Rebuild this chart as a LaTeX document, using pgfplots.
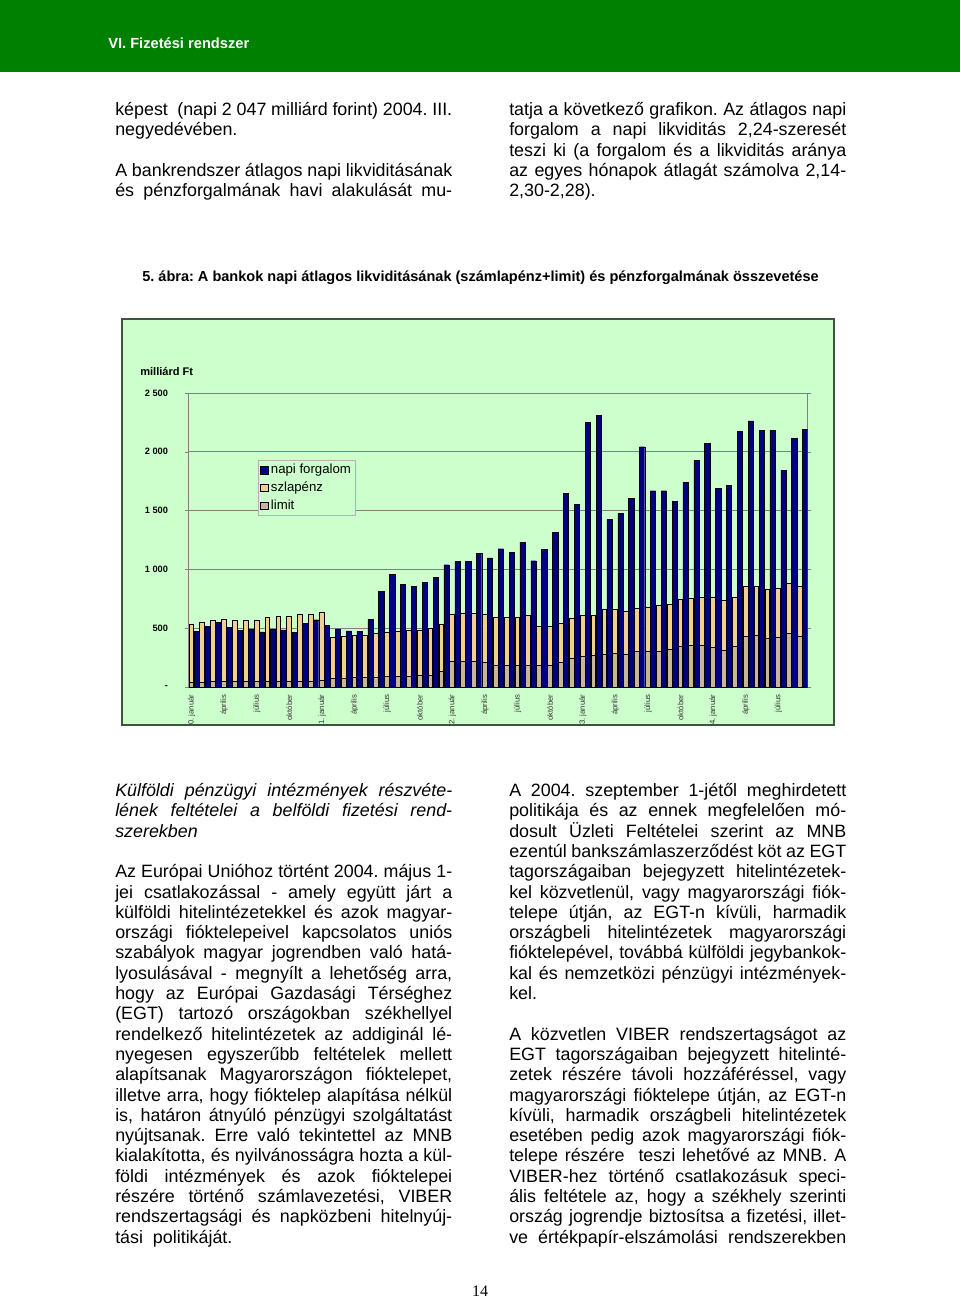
\documentclass[border=0pt]{standalone}
\usepackage{pgfplots}
\pgfplotsset{compat=1.18}
\usepackage{pgfplotstable}
\usepackage{fontspec}
\setmainfont{Liberation Sans}
\newfontfamily\seriffont{Liberation Serif}
\definecolor{headgreen}{RGB}{0,128,0}
\definecolor{chartbg}{RGB}{204,255,204}
\definecolor{navybar}{RGB}{0,0,128}
\definecolor{szcol}{RGB}{240,208,140}
\definecolor{limcol}{RGB}{200,182,150}
\definecolor{boxcol}{RGB}{60,85,60}

\pgfplotstableread{
i limit szlap forg
0 42 493 472
1 42 510 513
2 46 523 549
3 46 528 510
4 46 520 480
5 46 523 489
6 46 520 468
7 46 548 491
8 46 557 485
9 46 559 462
10 48 567 543
11 48 572 572
12 58 581 522
13 76 348 494
14 77 354 477
15 80 360 471
16 82 358 576
17 85 372 813
18 88 378 955
19 90 382 870
20 93 385 853
21 96 389 890
22 99 397 935
23 132 401 1040
24 218 404 1066
25 218 409 1070
26 220 408 1139
27 210 410 1097
28 184 410 1176
29 181 413 1145
30 181 414 1233
31 184 422 1074
32 181 333 1170
33 184 331 1318
34 207 333 1644
35 241 339 1553
36 258 348 2253
37 269 337 2310
38 278 382 1423
39 283 377 1474
40 275 371 1607
41 303 367 2043
42 303 374 1669
43 303 389 1669
44 317 388 1579
45 348 394 1743
46 352 401 1930
47 354 409 2072
48 339 427 1689
49 313 422 1715
50 345 420 2174
51 427 431 2264
52 436 424 2185
53 416 415 2185
54 422 416 1845
55 453 428 2117
56 432 427 2191
}\data

\newlength\colw \setlength\colw{252.75pt}
\newcommand\J[1]{\makebox[\colw][s]{#1}\par}
\newcommand\E[1]{\makebox[\colw][l]{#1}\par}
\newcommand\B{\mbox{}\par}
\newcommand\bodyset{\fontsize{13.4pt}{15.225pt}\selectfont\frenchspacing\setlength\parindent{0pt}\lineskiplimit=-30pt\relax}

\begin{document}
\frenchspacing
\begin{tikzpicture}
\path[use as bounding box] (0pt,0pt) rectangle (720pt,-973.5pt);
\begin{scope}[x=0.75pt,y=-0.75pt]
  % header
  \fill[headgreen] (0,0) rectangle (960,72);
  \node[anchor=west, inner sep=0pt, text=white, font=\fontsize{11pt}{13pt}\selectfont\bfseries] at (108,43) {VI. Fizetési rendszer};
  % top columns
  \node[anchor=base west, inner sep=0pt] at (115,115.5) {\parbox[t]{\colw}{\bodyset
    \J{képest\ \ (napi 2\hspace{.28em}047 milliárd forint) 2004. III.}
    \E{negyedévében.}
    \B
    \J{A bankrendszer átlagos napi likviditásának}
    \J{és pénzforgalmának havi alakulását mu-}}};
  \node[anchor=base west, inner sep=0pt] at (509,115.5) {\parbox[t]{\colw}{\bodyset
    \J{tatja a következő grafikon. Az átlagos napi}
    \J{forgalom a napi likviditás 2,24-szeresét}
    \J{teszi ki (a forgalom és a likviditás aránya}
    \J{az egyes hónapok átlagát számolva 2,14-}
    \E{2,30-2,28).}}};
  % caption
  \node[inner sep=0pt, font=\fontsize{10.9pt}{12pt}\selectfont\bfseries] at (480.5,278) {\frenchspacing 5. ábra: A bankok napi átlagos likviditásának (számlapénz+limit) és pénzforgalmának összevetése};
  % chart box
  \fill[chartbg] (122,319) rectangle (834,725);
  \node[anchor=west, inner sep=0pt, font=\fontsize{8.3pt}{10pt}\selectfont\bfseries] at (140,371) {milliárd Ft};
  % lower columns
  \node[anchor=base west, inner sep=0pt] at (115,796.5) {\parbox[t]{\colw}{\bodyset
    \itshape
    \J{Külföldi pénzügyi intézmények részvéte-}
    \J{lének feltételei a belföldi fizetési rend-}
    \E{szerekben}
    \upshape
    \B
    \J{Az Európai Unióhoz történt 2004. május 1-}
    \J{jei csatlakozással - amely együtt járt a}
    \J{külföldi hitelintézetekkel és azok magyar-}
    \J{országi fióktelepeivel kapcsolatos uniós}
    \J{szabályok magyar jogrendben való hatá-}
    \J{lyosulásával - megnyílt a lehetőség arra,}
    \J{hogy az Európai Gazdasági Térséghez}
    \J{(EGT) tartozó országokban székhellyel}
    \J{rendelkező hitelintézetek az addiginál lé-}
    \J{nyegesen egyszerűbb feltételek mellett}
    \J{alapítsanak Magyarországon fióktelepet,}
    \J{illetve arra, hogy fióktelep alapítása nélkül}
    \J{is, határon átnyúló pénzügyi szolgáltatást}
    \J{nyújtsanak. Erre való tekintettel az MNB}
    \J{kialakította, és nyilvánosságra hozta a kül-}
    \J{földi intézmények és azok fióktelepei}
    \J{részére történő számlavezetési, VIBER}
    \J{rendszertagsági és napközbeni hitelnyúj-}
    \E{tási\ \ politikáját.}}};
  \node[anchor=base west, inner sep=0pt] at (509,796.5) {\parbox[t]{\colw}{\bodyset
    \J{A 2004. szeptember 1-jétől meghirdetett}
    \J{politikája és az ennek megfelelően mó-}
    \J{dosult Üzleti Feltételei szerint az MNB}
    \J{ezentúl bankszámlaszerződést köt az EGT}
    \J{tagországaiban bejegyzett hitelintézetek-}
    \J{kel közvetlenül, vagy magyarországi fiók-}
    \J{telepe útján, az EGT-n kívüli, harmadik}
    \J{országbeli hitelintézetek magyarországi}
    \J{fióktelepével, továbbá külföldi jegybankok-}
    \J{kal és nemzetközi pénzügyi intézmények-}
    \E{kel.}
    \B
    \J{A közvetlen VIBER rendszertagságot az}
    \J{EGT tagországaiban bejegyzett hitelinté-}
    \J{zetek részére távoli hozzáféréssel, vagy}
    \J{magyarországi fióktelepe útján, az EGT-n}
    \J{kívüli, harmadik országbeli hitelintézetek}
    \J{esetében pedig azok magyarországi fiók-}
    \J{telepe részére\ \ teszi lehetővé az MNB. A}
    \J{VIBER-hez történő csatlakozásuk speci-}
    \J{ális feltétele az, hogy a székhely szerinti}
    \J{ország jogrendje biztosítsa a fizetési, illet-}
    \J{ve értékpapír-elszámolási rendszerekben}}};
  \node[inner sep=0pt, font=\seriffont\fontsize{12pt}{14pt}\selectfont] at (480,1291) {14};
\end{scope}

\begin{scope}
\clip (91.5pt,-239.25pt) rectangle (625.5pt,-543.75pt);
\begin{axis}[
  at={(141.225pt,-515.25pt)}, anchor=south west,
  scale only axis, width=464.55pt, height=220.5pt,
  xmin=0, xmax=57, ymin=0, ymax=2500,
  axis line style={draw=gray},
  ymajorgrids, grid style={gray, line width=0.5pt},
  ytick={0,500,...,2500},
  yticklabels={-,500,1 000,1 500,2 000,2 500},
  ytick style={draw=gray}, tick align=outside, major tick length=2.25pt,
  yticklabel style={font=\fontsize{6.9pt}{8pt}\selectfont\bfseries, xshift=-9.5pt},
  xtick={0.3,3.3,...,54.3},
  xticklabels={2000. január,április,július,október,2001. január,április,július,október,2002. január,április,július,október,2003. január,április,július,október,2004. január,április,július},
  xtick style={draw=none},
  xticklabel style={rotate=90, anchor=east, font=\fontsize{5.8pt}{7pt}\selectfont, text=black!80},
  legend image code/.code={\draw[#1,draw=black,line width=0.4pt] (0pt,-2.8pt) rectangle (5.6pt,2.8pt);},
  legend style={at={(0.1125,0.772)}, anchor=north west, draw=gray!60, fill=chartbg,
    font=\fontsize{9.9pt}{11pt}\selectfont, inner xsep=1.5pt, inner ysep=1pt, row sep=0.6pt},
  legend cell align=left,
]
\addlegendimage{fill=navybar}
\addlegendentry{napi forgalom}
\addlegendimage{fill=szcol}
\addlegendentry{szlapénz}
\addlegendimage{fill=limcol}
\addlegendentry{limit}
\addplot[ybar, bar width=0.44, bar shift=0pt, fill=szcol, draw=black, line width=0.5pt, forget plot]
  table[x expr=\thisrow{i}+0.28, y expr=\thisrow{limit}+\thisrow{szlap}] {\data};
\addplot[ybar, bar width=0.44, bar shift=0pt, fill=limcol, draw=black, line width=0.5pt, forget plot]
  table[x expr=\thisrow{i}+0.28, y=limit] {\data};
\addplot[ybar, bar width=0.48, bar shift=0pt, fill=navybar, draw=black, line width=0.3pt, forget plot]
  table[x expr=\thisrow{i}+0.76, y=forg] {\data};
\end{axis}
\end{scope}
\draw[boxcol, line width=1.2pt] (91.5pt,-239.25pt) rectangle (625.5pt,-543.75pt);
\end{tikzpicture}
\end{document}
